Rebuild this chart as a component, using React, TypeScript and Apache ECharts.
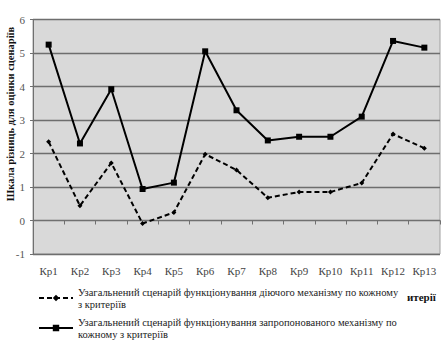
import React, { useEffect, useRef } from "react";
import * as echarts from "echarts";

const categories = ["Кр1", "Кр2", "Кр3", "Кр4", "Кр5", "Кр6", "Кр7", "Кр8", "Кр9", "Кр10", "Кр11", "Кр12", "Кр13"];
const currentMechanism = [2.35, 0.44, 1.72, -0.09, 0.24, 1.98, 1.51, 0.68, 0.85, 0.85, 1.12, 2.58, 2.16];
const proposedMechanism = [5.25, 2.3, 3.92, 0.94, 1.13, 5.05, 3.29, 2.39, 2.5, 2.5, 3.1, 5.36, 5.16];
const seriesNames = [
  "Узагальнений сценарій функціонування діючого механізму по кожному\nз критеріїв",
  "Узагальнений сценарій функціонування запропонованого механізму по\nкожному з критеріїв",
];
const yTitle = "Шкала різниць для оцінки сценаріїв";
const clippedText = "итерії";

const SERIF = "'Liberation Serif', 'Times New Roman', serif";

export default function App() {
  const ref = useRef<HTMLDivElement>(null);
  useEffect(() => {
    document.body.style.margin = "0";
    if (!ref.current) return;
    const chart = echarts.init(ref.current, undefined, { renderer: "svg" });
    chart.setOption({
      animation: false,
      backgroundColor: "#ffffff",
      grid: {
        left: 33,
        right: 2,
        top: 19.5,
        bottom: 100,
        show: true,
        backgroundColor: "#d9d9d9",
        borderColor: "#a0a0a0",
        borderWidth: 1,
      },
      xAxis: {
        type: "category",
        data: categories,
        boundaryGap: true,
        axisLine: { onZero: true, lineStyle: { color: "#707070", width: 1 } },
        axisTick: { show: true, length: 4, lineStyle: { color: "#707070" } },
        axisLabel: { fontFamily: SERIF, fontSize: 11, color: "#444", margin: 11 },
      },
      yAxis: {
        type: "value",
        min: -1,
        max: 6,
        interval: 1,
        axisLine: { show: true, lineStyle: { color: "#707070" } },
        axisTick: { show: true, length: 3, lineStyle: { color: "#707070" } },
        axisLabel: { fontFamily: SERIF, fontSize: 11, color: "#555", margin: 8 },
        splitLine: { show: true, lineStyle: { color: "#6e6e6e", width: 1.3 } },
      },
      legend: {
        orient: "vertical",
        left: 38,
        top: 280,
        padding: 0,
        itemWidth: 34,
        itemHeight: 8,
        itemGap: -6,
        textStyle: {
          fontFamily: SERIF,
          fontSize: 10.5,
          color: "#222",
          lineHeight: 12,
          padding: [12, 0, 0, 0],
        },
        data: seriesNames,
      },
      graphic: [
        {
          type: "text",
          x: 10,
          y: 114,
          rotation: Math.PI / 2,
          style: {
            text: yTitle,
            fontFamily: SERIF,
            fontSize: 10.5,
            fontWeight: "bold",
            fill: "#111",
            textAlign: "center",
            textVerticalAlign: "middle",
          },
        },
        {
          type: "text",
          x: 407,
          y: 297,
          style: {
            text: clippedText,
            fontFamily: SERIF,
            fontSize: 11,
            fontWeight: "bold",
            fill: "#111",
            textAlign: "left",
            textVerticalAlign: "middle",
          },
        },
      ],
      series: [
        {
          name: seriesNames[0],
          type: "line",
          data: currentMechanism,
          symbol: "diamond",
          symbolSize: 5,
          itemStyle: { color: "#000" },
          lineStyle: { color: "#000", width: 2, type: [5, 3] },
        },
        {
          name: seriesNames[1],
          type: "line",
          data: proposedMechanism,
          symbol: "rect",
          symbolSize: 6,
          itemStyle: { color: "#000" },
          lineStyle: { color: "#000", width: 2 },
        },
      ],
    });
    return () => chart.dispose();
  }, []);
  return <div ref={ref} style={{ width: 442, height: 354 }} />;
}
